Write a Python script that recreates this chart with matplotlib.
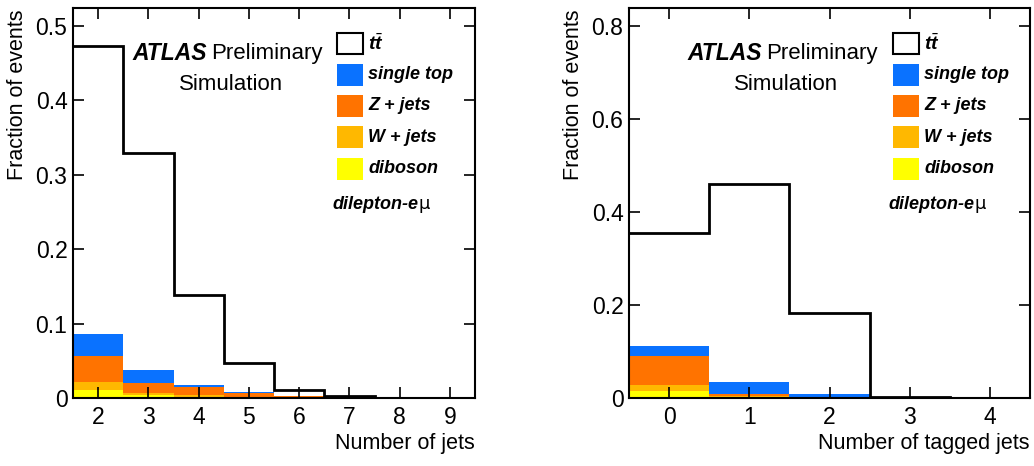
import numpy as np
import matplotlib
matplotlib.use("Agg")
from matplotlib import pyplot as plt
from matplotlib.patches import Rectangle
from matplotlib.ticker import FuncFormatter

plt.rcParams["font.family"] = ["Liberation Sans", "DejaVu Sans"]
plt.rcParams["mathtext.fontset"] = "custom"
plt.rcParams["mathtext.it"] = "Liberation Sans:italic:bold"
plt.rcParams["mathtext.rm"] = "Liberation Sans"

# --- number of jets (left panel) ---
njet_bins = [2, 3, 4, 5, 6, 7, 8, 9]
njet_ttbar = [0.473, 0.329, 0.139, 0.047, 0.0112, 0.0024, 0.0006, 0.0002]
njet_diboson = [0.0103, 0.0036, 0.0020, 0.0008, 0.0003, 0.0001, 0.0, 0.0]
njet_wjets = [0.0117, 0.0031, 0.0025, 0.0010, 0.0004, 0.0001, 0.0, 0.0]
njet_zjets = [0.034, 0.0139, 0.0098, 0.0049, 0.0018, 0.0004, 0.0001, 0.0]
njet_singletop = [0.030, 0.0171, 0.0036, 0.0018, 0.0005, 0.0001, 0.0, 0.0]

# --- number of tagged jets (right panel) ---
ntag_bins = [0, 1, 2, 3, 4]
ntag_ttbar = [0.356, 0.461, 0.182, 0.002, 0.0003]
ntag_diboson = [0.0144, 0.0030, 0.0006, 0.0, 0.0]
ntag_wjets = [0.0130, 0.0020, 0.0004, 0.0, 0.0]
ntag_zjets = [0.0626, 0.0029, 0.0006, 0.0, 0.0]
ntag_singletop = [0.0217, 0.0260, 0.0064, 0.0002, 0.0]

labels = ["single top", "Z + jets", "W + jets", "diboson"]
colors = ["#0a72ff", "#ff7300", "#ffb800", "#ffff00"]

fig = plt.figure(figsize=(10.34, 4.66), dpi=100)
ax1 = fig.add_axes([73 / 1034, 1 - 398 / 466, 402 / 1034, 390 / 466])
ax2 = fig.add_axes([629 / 1034, 1 - 398 / 466, 401 / 1034, 390 / 466])


def draw_panel(ax, bins, ttbar, diboson, wjets, zjets, stop, ymax, ystep, xlabel,
               tx, lx):
    edges = np.append(np.array(bins) - 0.5, bins[-1] + 0.5)
    layers = [np.array(diboson), np.array(wjets), np.array(zjets), np.array(stop)]
    cum = np.cumsum(layers, axis=0)
    # draw from the top down so each band stays visible
    for i in range(3, -1, -1):
        ax.stairs(cum[i], edges, fill=True, color=colors[3 - i], lw=0)
    ax.stairs(ttbar, edges, color="black", lw=2, baseline=None)

    ax.set_xlim(edges[0], edges[-1])
    ax.set_ylim(0, ymax)
    ax.set_xticks(bins)
    ax.set_yticks(np.arange(0, ymax, ystep))
    ax.yaxis.set_major_formatter(FuncFormatter(lambda v, p: "%g" % round(v, 3)))
    ax.tick_params(direction="in", length=8, width=1.2, top=True, right=True,
                   labelsize=16.5)
    ax.tick_params(axis="x", pad=6)
    ax.tick_params(axis="y", pad=4)
    for s in ax.spines.values():
        s.set_linewidth(1.5)
    ax.set_xlabel(xlabel, fontsize=15.5, loc="right", labelpad=3)
    ax.set_ylabel("Fraction of events", fontsize=15.5, loc="top")
    ax.yaxis.set_label_coords(-0.113, 0.995)

    # ATLAS label
    atl = ax.text(tx, 0.884, "ATLAS", transform=ax.transAxes, fontsize=16.5,
                  fontweight="bold", style="italic", va="center")
    ax.annotate("Preliminary", xy=(1, 0.5), xycoords=atl, xytext=(3, 0),
                textcoords="offset points", fontsize=16, va="center")
    ax.text(0.392, 0.804, "Simulation", transform=ax.transAxes,
            fontsize=16, va="center", ha="center")

    # legend
    rows = [0.909, 0.829, 0.749, 0.669, 0.588]
    bw, bh = 0.065, 0.056
    ax.add_patch(Rectangle((lx, rows[0] - bh / 2), bw, bh, transform=ax.transAxes,
                           facecolor="white", edgecolor="black", lw=1.5))
    ax.text(lx + bw + 0.013, rows[0], r"$t\bar{t}$", transform=ax.transAxes,
            fontsize=14, va="center")
    for r, lab, col in zip(rows[1:], labels, colors):
        ax.add_patch(Rectangle((lx, r - bh / 2), bw, bh, transform=ax.transAxes,
                               facecolor=col, edgecolor="none"))
        ax.text(lx + bw + 0.013, r, lab, transform=ax.transAxes, fontsize=13,
                fontweight="bold", style="italic", va="center")
    dil = ax.text(lx - 0.012, 0.485, "dilepton-e", transform=ax.transAxes,
                  fontsize=13, fontweight="bold", style="italic", va="baseline")
    ax.annotate("\u03bc", xy=(1, 0), xycoords=dil, xytext=(0.5, 0),
                textcoords="offset points", fontsize=13, va="bottom",
                family=["DejaVu Sans"])


draw_panel(ax1, njet_bins, njet_ttbar, njet_diboson, njet_wjets, njet_zjets,
           njet_singletop, 0.524, 0.1, "Number of jets", 0.149, 0.657)
draw_panel(ax2, ntag_bins, ntag_ttbar, ntag_diboson, ntag_wjets, ntag_zjets,
           ntag_singletop, 0.839, 0.2, "Number of tagged jets", 0.147, 0.658)

fig.savefig("out.png", dpi=100)
